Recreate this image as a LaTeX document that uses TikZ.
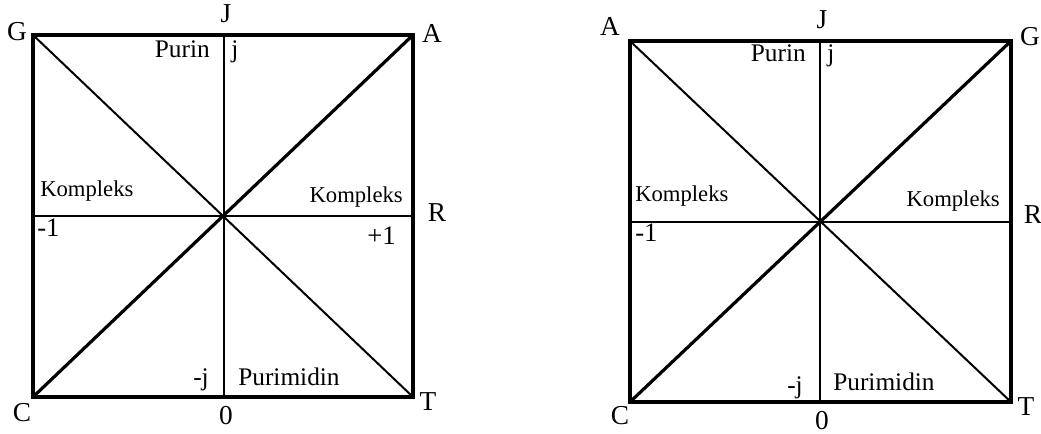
\documentclass[tikz,border=0pt]{standalone}
\usepackage{fontspec}
\setmainfont{Liberation Serif}
\begin{document}
\begin{tikzpicture}[x=0.75pt,y=-0.75pt,
  frame/.style={line width=3pt, line join=miter},
  thickline/.style={line width=2.4pt},
  thinline/.style={line width=1.5pt},
  lbl/.style={inner sep=0pt, font=\fontsize{20.5}{22}\selectfont},
  word/.style={inner sep=0pt, font=\fontsize{19}{21}\selectfont},
  num/.style={inner sep=0pt, font=\fontsize{20}{22}\selectfont},
  komp/.style={inner sep=0pt, font=\fontsize{17}{19}\selectfont}]
\useasboundingbox (0,0) rectangle (1041,434);
% ---------- left figure ----------
\coordinate (LG) at (33,35);
\coordinate (LA) at (413,35);
\coordinate (LC) at (33,397);
\coordinate (LT) at (413,397);
\coordinate (LJ) at (224,35);
\coordinate (L0) at (224,397);
\coordinate (Lm) at (33,216);
\coordinate (LR) at (413,216);
\coordinate (LO) at (224,216);
\draw[thinline] (LJ) -- (L0);
\draw[thinline] (Lm) -- (LR);
\draw[thinline] (LG) -- (LT);
\draw[thickline] (LC) -- (LA);
\draw[frame] (LG) -- (LA) -- (LT) -- (LC) -- cycle;
\node[lbl] (lgG) at (17,32) {G};
\node[lbl] (lgJ) at (226,14) {J};
\node[lbl] (lgA) at (432,33) {A};
\node[lbl] (lgR) at (437,213) {R};
\node[lbl] (lgC) at (22,413) {C};
\node[lbl] (lg0) at (226,416) {0};
\node[lbl] (lgT) at (428,402) {T};
\node[word, anchor=base east] (lpurin) at (210,58) {Purin};
\node[word, anchor=base west] (lj) at (231,58) {j};
\node[komp, anchor=base west] (lk1) at (40,197) {Kompleks};
\node[num, anchor=base west] (lm1) at (37,237) {-1};
\node[komp, anchor=base east] (lk2) at (403,203) {Kompleks};
\node[num, anchor=base east] (lp1) at (396,245) {+1};
\node[word, anchor=base east] (lmj) at (209,385) {-j};
\node[word, anchor=base west] (lpur) at (238,385) {Purimidin};
% ---------- right figure ----------
\coordinate (RA) at (630,41);
\coordinate (RG) at (1011,41);
\coordinate (RC) at (630,402);
\coordinate (RT) at (1011,402);
\coordinate (RJ) at (820,41);
\coordinate (R0) at (820,402);
\coordinate (Rm) at (630,222);
\coordinate (RR) at (1011,222);
\coordinate (RO) at (820,222);
\draw[thinline] (RJ) -- (R0);
\draw[thinline] (Rm) -- (RR);
\draw[thinline] (RA) -- (RT);
\draw[thickline] (RC) -- (RG);
\draw[frame] (RA) -- (RG) -- (RT) -- (RC) -- cycle;
\node[lbl] (rgA) at (610,26) {A};
\node[lbl] (rgJ) at (822,20) {J};
\node[lbl] (rgG) at (1030,37) {G};
\node[lbl] (rgR) at (1033,215) {R};
\node[lbl] (rgC) at (620,416) {C};
\node[lbl] (rg0) at (822,421) {0};
\node[lbl] (rgT) at (1026,407) {T};
\node[word, anchor=base east] (rpurin) at (806,62) {Purin};
\node[word, anchor=base west] (rj) at (827,62) {j};
\node[komp, anchor=base west] (rk1) at (635,202) {Kompleks};
\node[num, anchor=base west] (rm1) at (635,242) {-1};
\node[komp, anchor=base east] (rk2) at (1000,207) {Kompleks};
\node[word, anchor=base east] (rmj) at (803,393) {-j};
\node[word, anchor=base west] (rpur) at (833,390) {Purimidin};
\end{tikzpicture}
\end{document}
